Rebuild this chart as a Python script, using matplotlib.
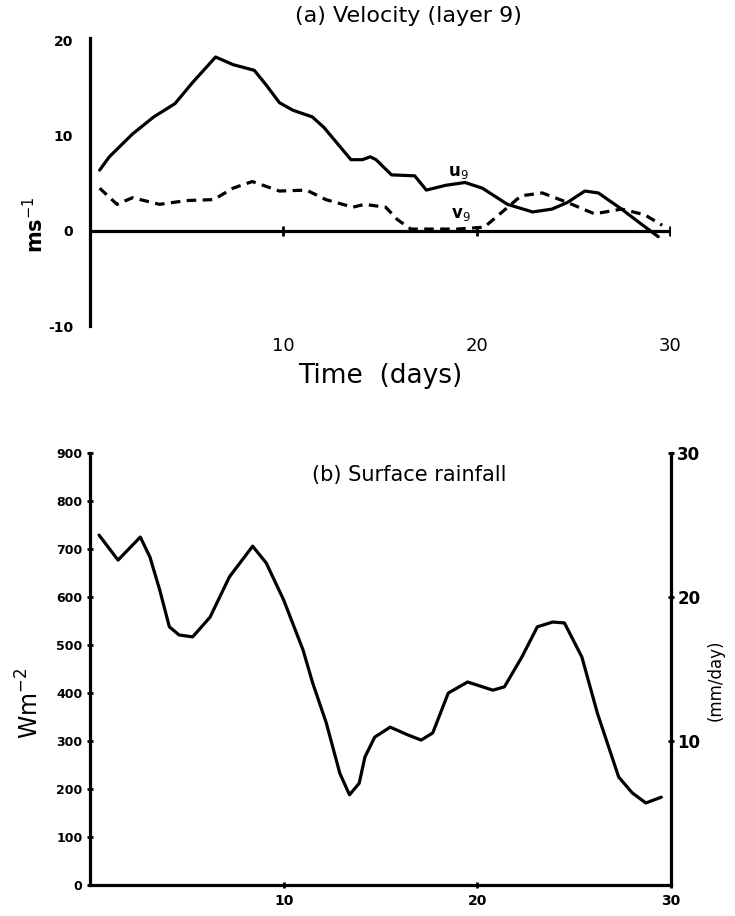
import matplotlib
matplotlib.use('Agg')
import matplotlib.pyplot as plt

plt.rcParams['axes.unicode_minus'] = False
plt.rcParams['font.family'] = 'DejaVu Sans'

# (a) velocity, layer 9
u_day = [0.5, 1.0, 2.2, 3.3, 4.4, 5.3, 6.5, 7.4, 8.5, 9.1, 9.8, 10.5, 11.5, 12.1, 12.8, 13.5, 14.1, 14.5, 14.8,
         15.6, 16.8, 17.4, 18.4, 19.4, 20.3, 21.6, 22.9, 23.9, 24.7, 25.6, 26.3, 27.5, 28.6, 29.4]
u9 = [6.4, 7.8, 10.2, 12.0, 13.4, 15.6, 18.3, 17.5, 16.9, 15.4, 13.5, 12.7, 12.0, 10.9, 9.2, 7.5, 7.5, 7.8, 7.5,
      5.9, 5.8, 4.3, 4.8, 5.1, 4.5, 2.8, 2.0, 2.3, 3.0, 4.2, 4.0, 2.3, 0.6, -0.6]

v_day = [0.5, 1.4, 2.2, 3.6, 5.0, 6.4, 7.4, 8.4, 9.8, 11.2, 12.2, 13.6, 14.2, 15.3, 15.9, 16.6, 19.0, 20.4,
         21.5, 22.3, 23.4, 24.7, 26.1, 27.5, 28.7, 29.6]
v9 = [4.5, 2.8, 3.5, 2.8, 3.2, 3.3, 4.5, 5.2, 4.2, 4.3, 3.3, 2.5, 2.8, 2.5, 1.2, 0.2, 0.2, 0.4,
      2.3, 3.7, 4.0, 3.0, 1.8, 2.3, 1.7, 0.6]

# (b) surface rainfall (W m-2)
rain_day = [0.47, 1.45, 2.6, 3.1, 3.6, 4.1, 4.6, 5.3, 6.2, 7.2, 8.4, 9.1, 10.0, 11.0, 11.5, 12.2, 12.9, 13.4,
            13.9, 14.2, 14.7, 15.5, 16.4, 17.1, 17.7, 18.5, 19.5, 20.8, 21.4, 22.3, 23.1, 23.9, 24.5, 25.4,
            26.2, 27.3, 28.0, 28.7, 29.5]
rain = [729, 677, 725, 683, 615, 538, 521, 517, 558, 642, 706, 671, 594, 490, 421, 338, 233, 188,
        212, 267, 308, 329, 313, 302, 317, 400, 423, 406, 413, 475, 538, 548, 546, 475,
        358, 225, 192, 171, 183]

xticks = [10, 20, 30]
vel_ticks = [-10, 0, 10, 20]
rain_ticks = [0, 100, 200, 300, 400, 500, 600, 700, 800, 900]
mm_ticks = [10, 20, 30]

lw = 2.3
fig = plt.figure(figsize=(7.35, 9.16), dpi=100)

# ---- top panel ----
ax1 = fig.add_axes([0.1224, 0.6441, 0.789, 0.3144])
ax1.plot(u_day, u9, color='black', lw=lw, solid_joinstyle='round', solid_capstyle='round')
ax1.plot(v_day, v9, color='black', lw=lw, dashes=(3, 2))
ax1.axhline(0, color='black', lw=lw)
ax1.plot(xticks, [0] * len(xticks), ls='none', marker='|', ms=7, mew=2, color='black')
ax1.set_xlim(0, 30)
ax1.set_ylim(-10, 20.3)
for s in ['top', 'right', 'bottom']:
    ax1.spines[s].set_visible(False)
ax1.spines['left'].set_linewidth(lw)
ax1.set_yticks(vel_ticks)
ax1.set_yticklabels([str(t) for t in vel_ticks], fontweight='bold', fontsize=10)
ax1.tick_params(axis='y', length=0, pad=12)
ax1.set_xticks(xticks)
ax1.set_xticklabels([str(t) for t in xticks], fontsize=13)
ax1.tick_params(axis='x', length=0, pad=8)
ax1.set_xlabel('Time  (days)', fontsize=19, labelpad=6)
ax1.text(0.55, 1.075, '(a) Velocity (layer 9)', transform=ax1.transAxes, ha='center', va='center', fontsize=16)
ax1.text(18.5, 5.8, 'u$_9$', fontsize=12, fontweight='bold')
ax1.text(18.7, 1.4, 'v$_9$', fontsize=12, fontweight='bold')
fig.text(35 / 735, 1 - 225 / 916, 'ms$^{-1}$', rotation=90, ha='center', va='center',
         fontsize=15, fontweight='bold')

# ---- bottom panel ----
ax2 = fig.add_axes([0.1224, 0.0338, 0.7905, 0.4716])
ax2.plot(rain_day, rain, color='black', lw=lw, solid_joinstyle='round', solid_capstyle='round')
ax2.set_xlim(0, 30)
ax2.set_ylim(0, 900)
ax2.spines['top'].set_visible(False)
ax2.spines['right'].set_visible(False)
for s in ['left', 'bottom']:
    ax2.spines[s].set_linewidth(lw)
ax2.set_yticks(rain_ticks)
ax2.set_yticklabels([str(t) for t in rain_ticks], fontweight='bold', fontsize=9)
ax2.tick_params(axis='y', direction='inout', length=5, width=2, pad=3)
ax2.set_xticks(xticks)
ax2.set_xticklabels([str(t) for t in xticks], fontweight='bold', fontsize=10)
ax2.tick_params(axis='x', direction='inout', length=5, width=2, pad=4)
ax2.text(0.55, 0.95, '(b) Surface rainfall', transform=ax2.transAxes, ha='center', va='center', fontsize=15)
fig.text(30 / 735, 1 - 703 / 916, 'Wm$^{-2}$', rotation=90, ha='center', va='center', fontsize=17)

ax3 = ax2.twinx()
ax3.set_ylim(0, 30)
for s in ['top', 'left', 'bottom']:
    ax3.spines[s].set_visible(False)
ax3.spines['right'].set_linewidth(lw)
ax3.set_yticks(mm_ticks)
ax3.set_yticklabels([str(t) for t in mm_ticks], fontweight='bold', fontsize=12)
ax3.tick_params(axis='y', direction='inout', length=5, width=2, pad=2)
fig.text(716 / 735, 1 - 680 / 916, '(mm/day)', rotation=90, ha='center', va='center', fontsize=12)

fig.savefig('out.png', dpi=100)
